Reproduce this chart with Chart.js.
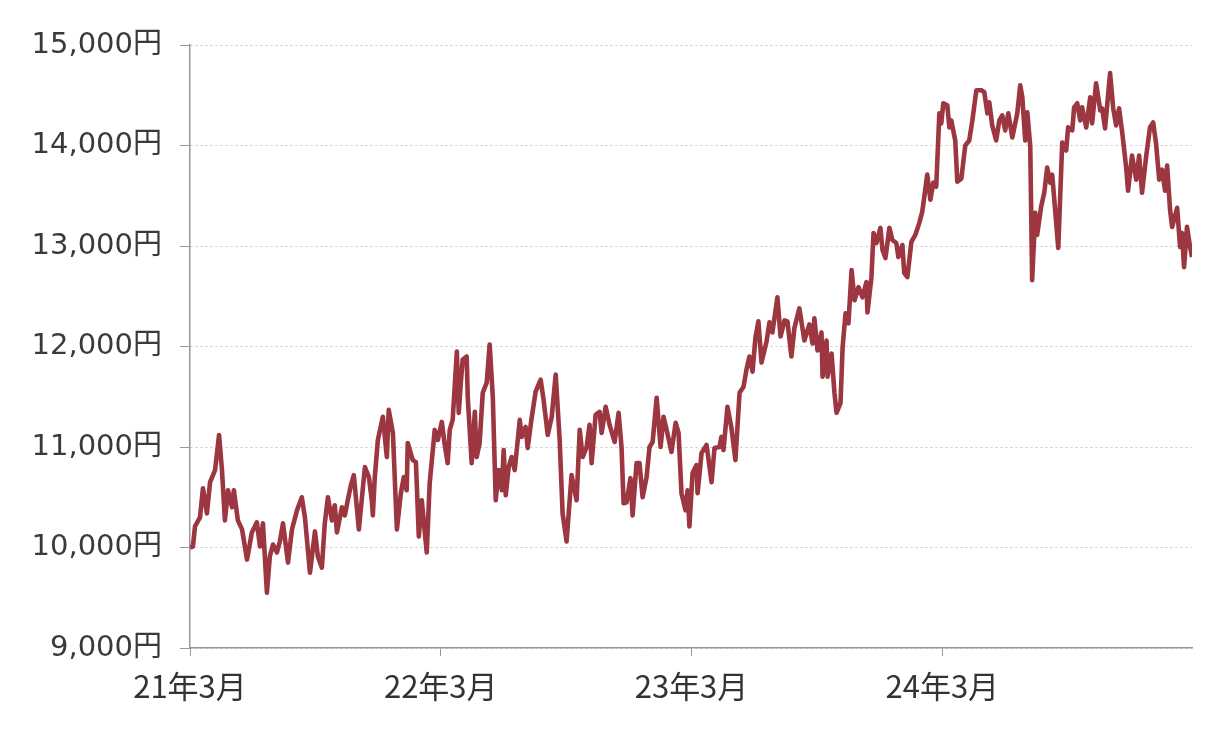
<!DOCTYPE html>
<html>
<head>
<meta charset="utf-8">
<script src="https://cdn.jsdelivr.net/npm/chart.js@4/dist/chart.umd.min.js"></script>
<style>
  html, body { margin: 0; padding: 0; background: #fff; }
  #wrap { width: 1227px; height: 729px; }
</style>
</head>
<body>
<div id="wrap"><canvas id="chart" width="1227" height="729"></canvas></div>
<script>
// months elapsed since 2021年3月
const months = [
  0.00, 0.14, 0.24, 0.48, 0.62, 0.81, 0.96, 1.20, 1.39, 1.53, 1.67, 1.82, 2.01, 2.10, 2.29, 2.49, 2.73, 2.96, 3.20, 3.35,
  3.49, 3.68, 3.82, 3.97, 4.16, 4.30, 4.45, 4.69, 4.88, 5.12, 5.35, 5.50, 5.74, 5.98, 6.12, 6.31, 6.45, 6.60, 6.79, 6.93,
  7.03, 7.27, 7.41, 7.55, 7.70, 7.84, 8.08, 8.37, 8.56, 8.70, 8.75, 8.84, 8.99, 9.23, 9.42, 9.51, 9.71, 9.90, 10.09, 10.23,
  10.37, 10.42, 10.66, 10.81, 10.95, 11.09, 11.33, 11.47, 11.71, 11.86, 12.05, 12.19, 12.33, 12.43, 12.57, 12.77, 12.86, 12.96, 13.05, 13.24,
  13.29, 13.48, 13.63, 13.72, 13.86, 14.01, 14.20, 14.34, 14.49, 14.63, 14.77, 14.92, 15.01, 15.11, 15.25, 15.39, 15.54, 15.78, 15.87, 16.06,
  16.16, 16.35, 16.54, 16.78, 16.92, 17.12, 17.31, 17.50, 17.69, 17.83, 18.02, 18.26, 18.50, 18.65, 18.79, 18.98, 19.12, 19.22, 19.41, 19.60,
  19.70, 19.89, 20.08, 20.32, 20.51, 20.65, 20.75, 20.89, 21.08, 21.18, 21.37, 21.51, 21.66, 21.85, 21.99, 22.14, 22.33, 22.52, 22.66, 22.81,
  23.04, 23.24, 23.38, 23.52, 23.71, 23.81, 23.90, 24.05, 24.24, 24.29, 24.48, 24.72, 24.96, 25.10, 25.34, 25.43, 25.53, 25.72, 25.91, 26.10,
  26.30, 26.49, 26.63, 26.77, 26.92, 27.06, 27.20, 27.35, 27.59, 27.73, 27.87, 28.11, 28.26, 28.45, 28.59, 28.78, 28.92, 29.16, 29.40, 29.64,
  29.79, 29.88, 30.03, 30.22, 30.27, 30.46, 30.51, 30.70, 30.84, 30.94, 31.13, 31.23, 31.37, 31.51, 31.66, 31.80, 31.99, 32.18, 32.37, 32.42,
  32.61, 32.71, 32.85, 33.04, 33.14, 33.28, 33.47, 33.61, 33.80, 33.90, 34.09, 34.18, 34.33, 34.52, 34.71, 34.90, 35.04, 35.14, 35.28, 35.43,
  35.57, 35.71, 35.86, 35.95, 36.05, 36.24, 36.34, 36.43, 36.62, 36.72, 36.91, 37.10, 37.29, 37.44, 37.63, 37.87, 38.01, 38.16, 38.25, 38.39,
  38.58, 38.73, 38.87, 39.01, 39.16, 39.35, 39.59, 39.73, 39.83, 39.97, 40.07, 40.21, 40.30, 40.45, 40.54, 40.73, 40.88, 41.02, 41.16, 41.26,
  41.40, 41.55, 41.74, 41.93, 42.02, 42.22, 42.31, 42.46, 42.60, 42.69, 42.89, 43.08, 43.17, 43.36, 43.56, 43.65, 43.79, 44.03, 44.18, 44.32,
  44.46, 44.61, 44.80, 44.89, 45.08, 45.28, 45.42, 45.56, 45.75, 45.94, 46.09, 46.23, 46.38, 46.52, 46.66, 46.76, 46.90, 47.00, 47.24, 47.38,
  47.47, 47.57, 47.71, 47.86, 47.95
];

// 基準価額（円）
const prices = [
  10000, 10010, 10210, 10300, 10590, 10340, 10650, 10770, 11120, 10770, 10270, 10570, 10400, 10570, 10270, 10180, 9880, 10150, 10250, 10010,
  10240, 9550, 9910, 10030, 9950, 10060, 10240, 9850, 10180, 10370, 10500, 10300, 9750, 10160, 9910, 9800, 10240, 10500, 10270, 10420,
  10150, 10400, 10320, 10470, 10620, 10720, 10180, 10800, 10700, 10470, 10320, 10690, 11070, 11300, 10900, 11370, 11140, 10180, 10540, 10700,
  10570, 11040, 10870, 10850, 10110, 10470, 9950, 10640, 11170, 11070, 11250, 11020, 10840, 11170, 11270, 11950, 11340, 11640, 11870, 11900,
  11500, 10840, 11350, 10900, 11040, 11540, 11640, 12020, 11500, 10470, 10770, 10570, 10970, 10520, 10800, 10900, 10770, 11270, 11100, 11200,
  10990, 11290, 11550, 11670, 11470, 11120, 11300, 11720, 11070, 10340, 10060, 10720, 10470, 11170, 10900, 11000, 11220, 10840, 11320, 11350,
  11140, 11400, 11220, 11050, 11340, 11000, 10440, 10450, 10690, 10320, 10840, 10840, 10500, 10700, 11000, 11050, 11490, 11000, 11300, 11170,
  10950, 11240, 11140, 10540, 10370, 10570, 10210, 10740, 10820, 10540, 10940, 11020, 10650, 10990, 11000, 11100, 10970, 11400, 11190, 10870,
  11540, 11600, 11770, 11900, 11750, 12090, 12250, 11840, 12050, 12240, 12140, 12490, 12100, 12260, 12250, 11900, 12180, 12380, 12060, 12220,
  12030, 12280, 11960, 12140, 11700, 12060, 11700, 11930, 11540, 11340, 11440, 11990, 12330, 12230, 12760, 12460, 12590, 12490, 12640, 12340,
  12690, 13130, 13030, 13180, 12960, 12880, 13180, 13060, 13030, 12890, 13010, 12730, 12690, 13040, 13110, 13230, 13340, 13490, 13710, 13460,
  13630, 13590, 14320, 14220, 14420, 14400, 14180, 14250, 14050, 13640, 13670, 14000, 14050, 14250, 14550, 14550, 14530, 14320, 14430, 14200,
  14050, 14250, 14300, 14150, 14320, 14080, 14320, 14600, 14480, 14050, 14330, 13990, 12660, 13330, 13110, 13390, 13530, 13780, 13630, 13710,
  13360, 12980, 14030, 13950, 14180, 14150, 14380, 14420, 14250, 14380, 14180, 14480, 14220, 14620, 14350, 14370, 14170, 14720, 14370, 14200,
  14370, 14130, 13780, 13550, 13900, 13660, 13900, 13530, 13880, 14180, 14230, 14020, 13660, 13760, 13550, 13800, 13360, 13190, 13380, 12990,
  13130, 12790, 13190, 12990, 12890
];

const xTickMonths = [0, 12, 24, 36];
const xTickLabels = ['21年3月', '22年3月', '23年3月', '24年3月'];
const yMin = 9000, yMax = 15000, yStep = 1000;

const points = months.map((m, i) => ({ x: m, y: prices[i] }));

new Chart(document.getElementById('chart'), {
  type: 'line',
  data: {
    datasets: [{
      data: points,
      borderColor: '#9c3640',
      borderWidth: 4.6,
      pointRadius: 0,
      tension: 0,
      borderJoinStyle: 'round'
    }]
  },
  options: {
    responsive: false,
    animation: false,
    layout: { padding: { top: 45, right: 35, left: 0, bottom: 0 } },
    plugins: { legend: { display: false }, tooltip: { enabled: false } },
    scales: {
      x: {
        type: 'linear',
        min: 0,
        max: 47.95,
        afterBuildTicks: (s) => { s.ticks = xTickMonths.map(v => ({ value: v })); },
        afterFit: (s) => { s.height = 81; },
        ticks: {
          autoSkip: false,
          maxRotation: 0,
          padding: 12,
          color: '#333',
          font: { family: '"Noto Sans CJK JP", sans-serif', size: 31 },
          callback: (v) => xTickLabels[xTickMonths.indexOf(v)]
        },
        grid: { drawOnChartArea: false, tickLength: 8, tickColor: '#999', tickWidth: 1 },
        border: { color: '#999', width: 1.5 }
      },
      y: {
        min: yMin,
        max: yMax,
        afterFit: (s) => { s.width = 190; },
        ticks: {
          stepSize: yStep,
          padding: 18,
          color: '#3a3a3a',
          font: { family: '"DejaVu Sans", "Noto Sans CJK JP", sans-serif', size: 29 },
          callback: (v) => v.toLocaleString('en-US') + '円'
        },
        grid: { color: '#c8c8c8', lineWidth: 1, tickLength: 10, tickColor: '#999', tickWidth: 1, tickBorderDash: [] },
        border: { color: '#999', width: 1.5, dash: [2, 3] }
      }
    }
  }
});
</script>
</body>
</html>
